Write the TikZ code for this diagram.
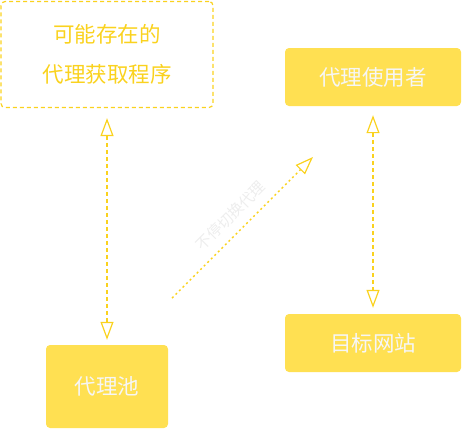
\documentclass[tikz,border=0pt]{standalone}
\usepackage{fontspec}
\setmainfont{Noto Sans CJK SC}
\usepackage{xcolor}
\usetikzlibrary{positioning, arrows.meta}

\definecolor{boxfill}{RGB}{255,224,82}
\definecolor{gold}{RGB}{250,210,30}
\definecolor{softwhite}{RGB}{246,246,246}

\begin{document}
\begin{tikzpicture}[
        x=1pt, y=-1pt,
        ytip/.tip={Triangle[open, length=18pt, width=13pt, line width=1.2pt]},
        block/.style={rectangle, rounded corners=4pt, align=center, inner sep=0pt, font=\fontsize{21.5}{26}\selectfont},
        solidbox/.style={block, fill=boxfill, text=softwhite},
        dashbox/.style={block, draw=gold, dash pattern=on 4pt off 3pt, line width=1.2pt, text=gold, font=\fontsize{21.5}{40}\selectfont},
        link/.style={draw=gold, line width=1.6pt, ytip-ytip},
        wmark/.style={font=\fontsize{15}{16}\selectfont, text=black!7, inner sep=0pt},
    ]
    \useasboundingbox (0,0) rectangle (462,429);
    \node[dashbox, minimum width=212pt, minimum height=106pt] (fetch) at (107,54.5) {可能存在的\\代理获取程序};
    \node[solidbox, minimum width=176pt, minimum height=58pt] (user) at (373,77) {代理使用者};
    \node[solidbox, minimum width=176pt, minimum height=58pt] (target) at (373,343) {目标网站};
    \node[solidbox, minimum width=122pt, minimum height=83pt] (pool) at (107,386.5) {代理池};
    \coordinate (swapA) at (172,298);
    \coordinate (swapB) at (313,157);
    % connectors
    \draw[link, dash pattern=on 4pt off 3pt, shorten <=10pt, shorten >=5pt] (fetch.south)--(pool.north);
    \draw[link, line width=1.4pt, dash pattern=on 4pt off 3pt, shorten <=9pt, shorten >=6pt] (user.south)--(target.north);
    \draw[draw=gold, line width=1.4pt, dash pattern=on 2pt off 3pt, -ytip] (swapA)--(swapB)
        node[wmark, midway, sloped, above=9pt] {不停切换代理};
\end{tikzpicture}
\end{document}
